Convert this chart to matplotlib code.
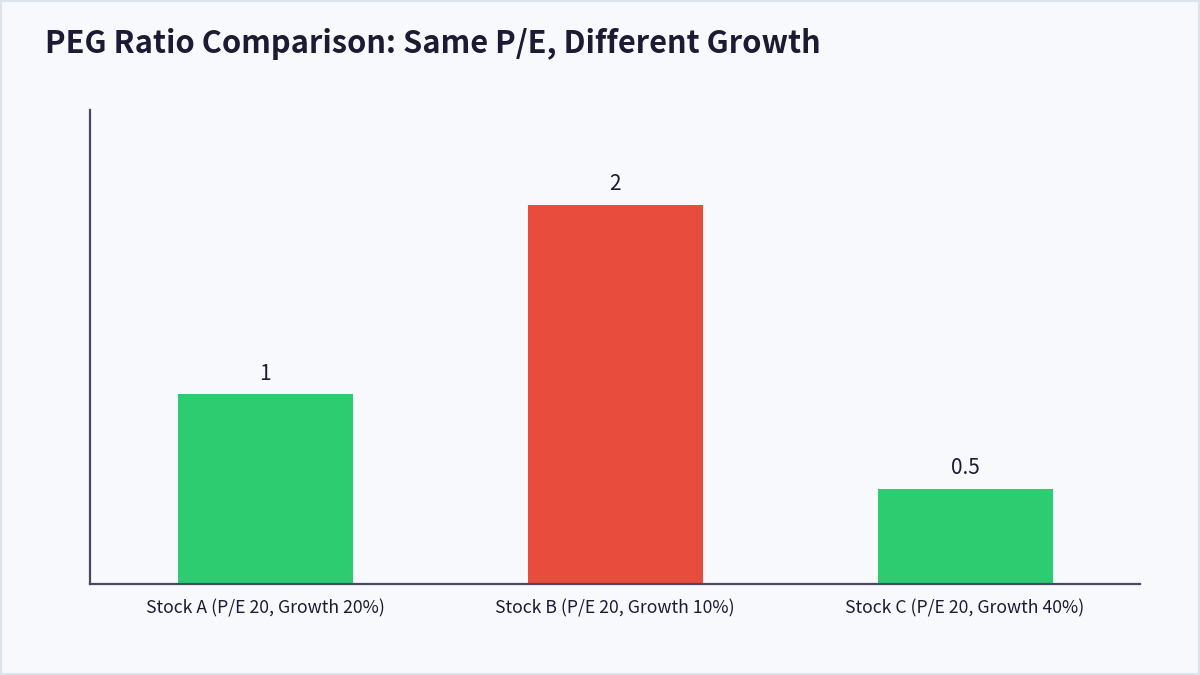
import matplotlib
matplotlib.use("Agg")
import matplotlib.pyplot as plt
from matplotlib.patches import Rectangle

categories = ["Stock A (P/E 20, Growth 20%)",
              "Stock B (P/E 20, Growth 10%)",
              "Stock C (P/E 20, Growth 40%)"]
peg_values = [1, 2, 0.5]
value_labels = ["1", "2", "0.5"]
bar_colors = ["#2ecc71", "#e74c3c", "#2ecc71"]
title = "PEG Ratio Comparison: Same P/E, Different Growth"

plt.rcParams['font.family'] = ['Noto Sans CJK KR', 'DejaVu Sans']

bg = "#f8f9fd"
ink = "#1c1b33"
spine = "#4a4762"

fig = plt.figure(figsize=(12, 6.75), dpi=100, facecolor=bg)
fig.patches.append(Rectangle((0, 0), 1, 1, transform=fig.transFigure,
                             facecolor="none", edgecolor="#dde3ea",
                             linewidth=3, zorder=10))
ax = fig.add_axes([0.075, 0.1348, 0.875, 0.7022])
ax.set_facecolor(bg)

x = list(range(len(categories)))
bars = ax.bar(x, peg_values, width=0.5, color=bar_colors)
for rect, lab in zip(bars, value_labels):
    ax.annotate(lab, (rect.get_x() + rect.get_width() / 2, rect.get_height()),
                xytext=(0, 7), textcoords="offset points",
                ha="center", va="bottom", fontsize=15, color=ink)

ax.set_xlim(-0.5, 2.5)
ax.set_ylim(0, 2.5)
ax.set_xticks(x)
ax.set_xticklabels(categories, fontsize=12.7, color=ink)
ax.tick_params(axis="x", length=0, pad=11)
ax.set_yticks([])
for s in ["top", "right"]:
    ax.spines[s].set_visible(False)
for s in ["left", "bottom"]:
    ax.spines[s].set_color(spine)
    ax.spines[s].set_linewidth(1.6)

fig.text(45 / 1200, 1 - 44 / 675, title, fontsize=22.2, fontweight="bold",
         color=ink, ha="left", va="center")

fig.savefig("out.png", dpi=100, facecolor=bg)
